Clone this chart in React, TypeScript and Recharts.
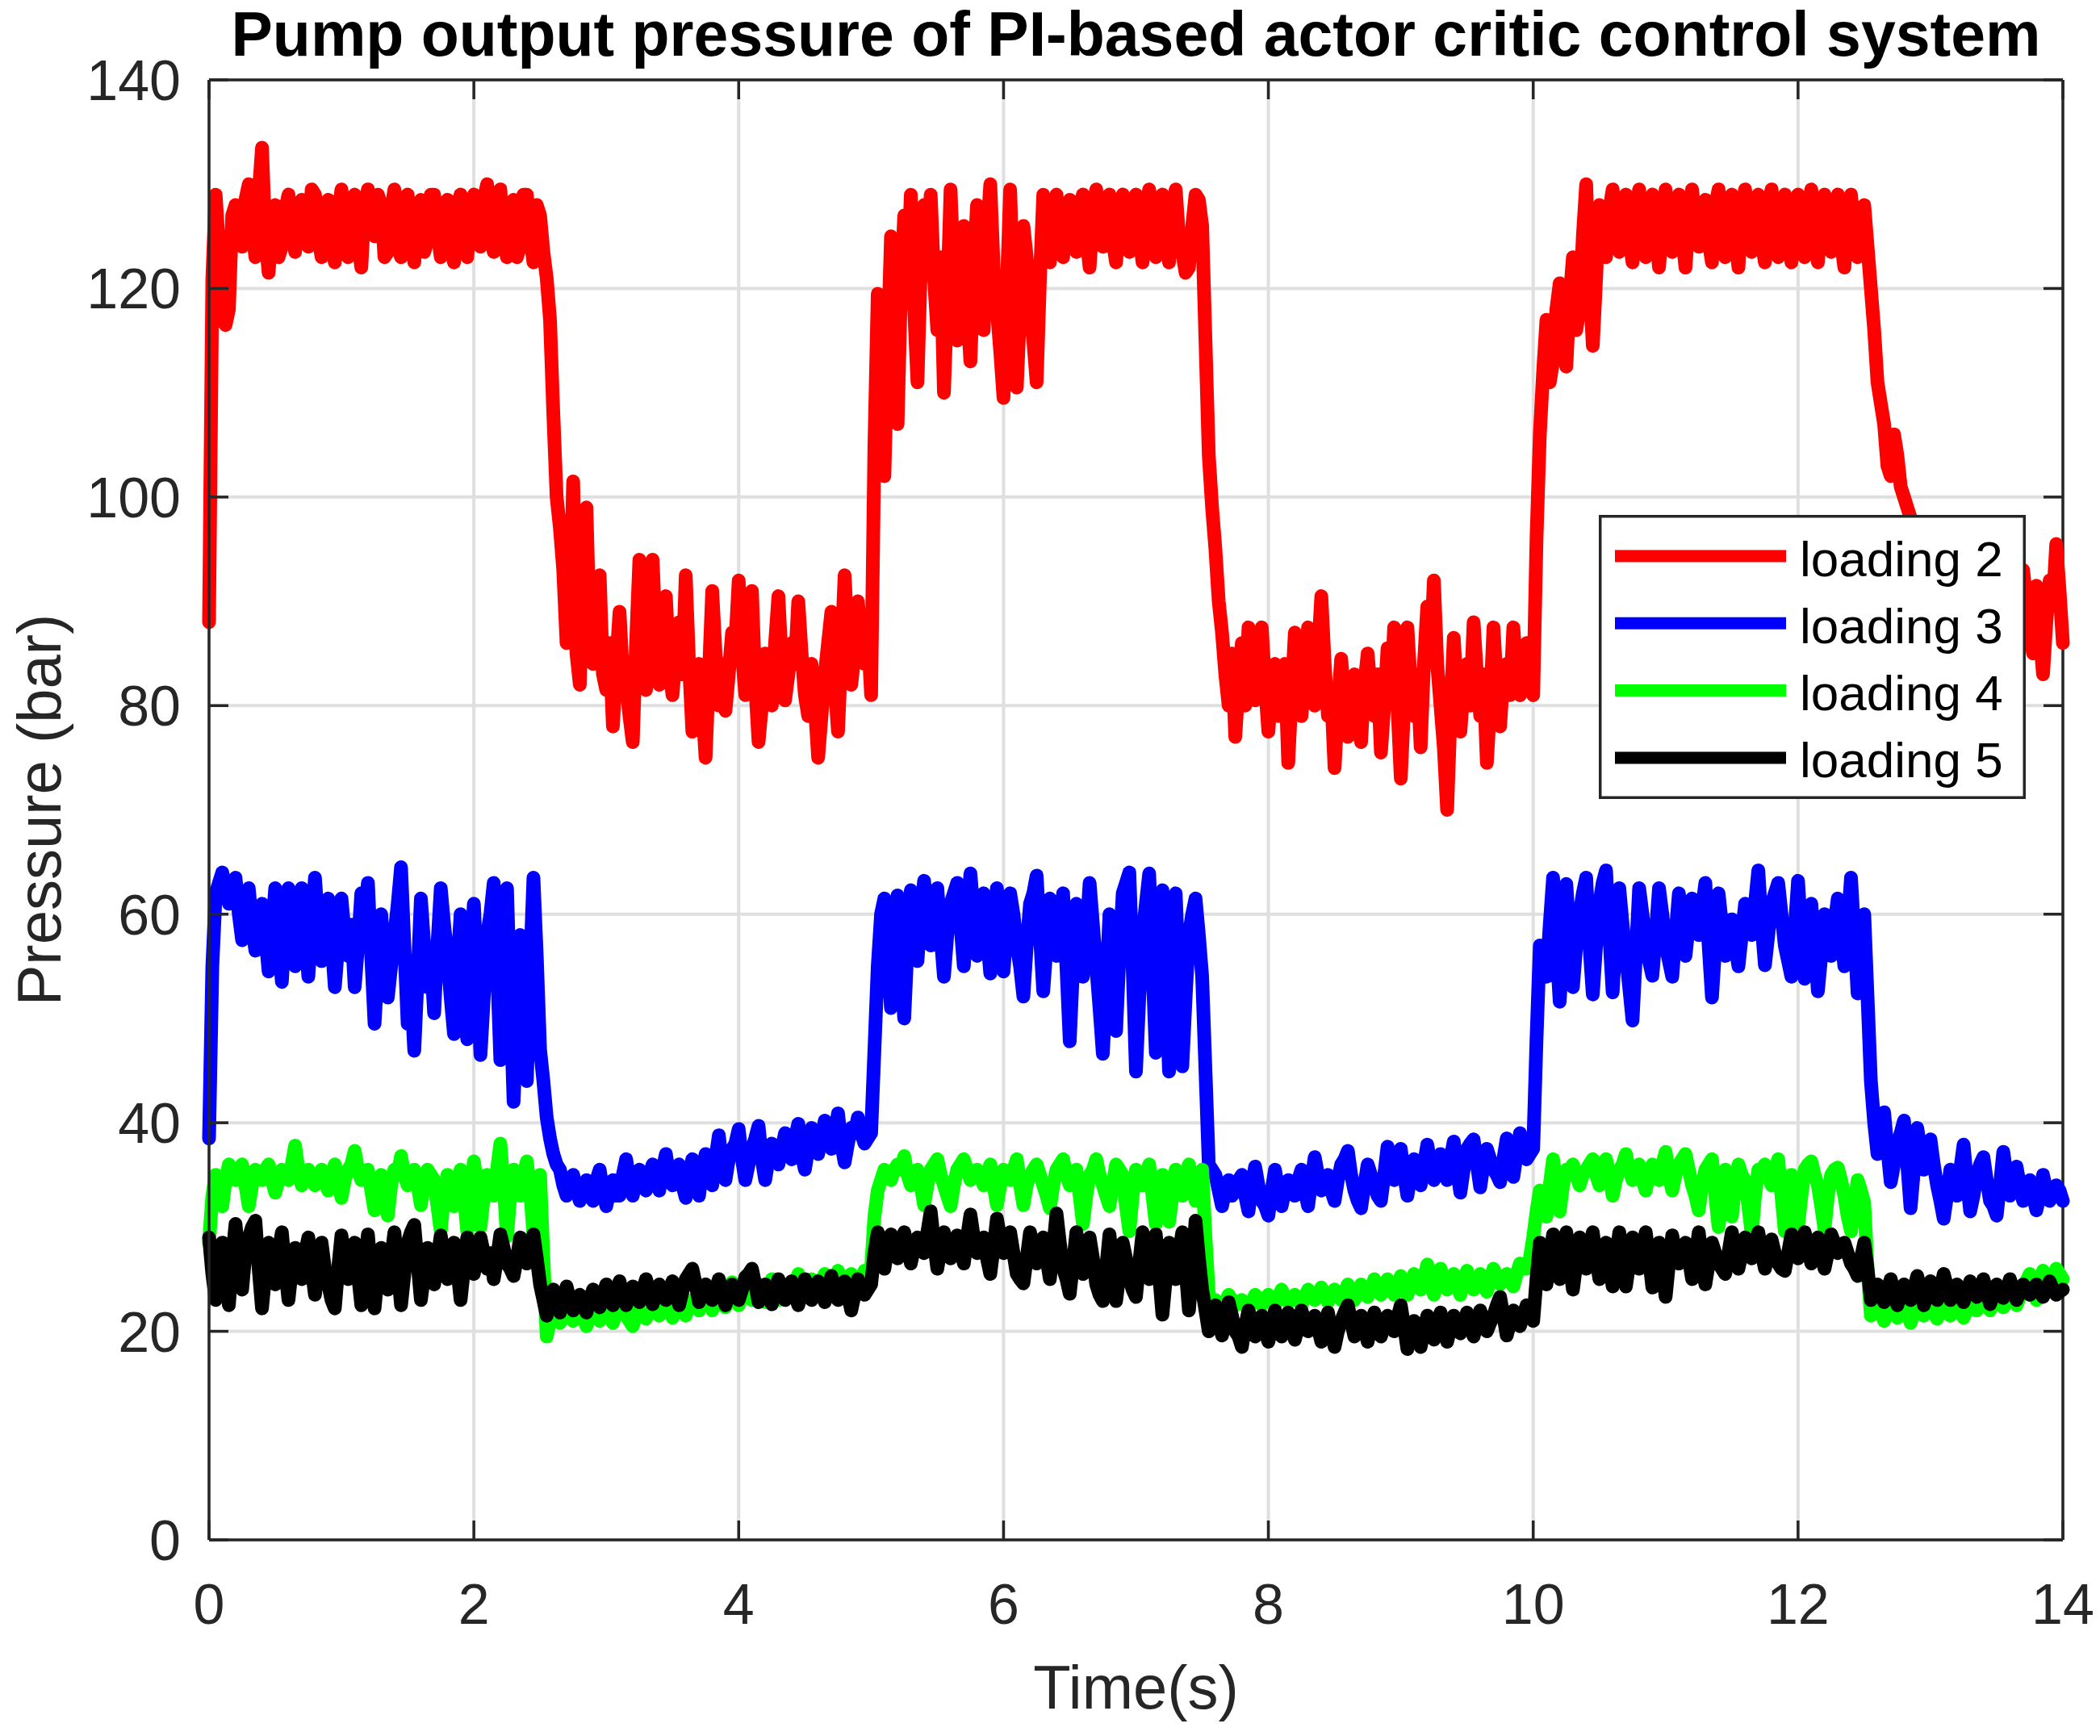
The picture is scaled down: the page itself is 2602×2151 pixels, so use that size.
import React from 'react';
import {
  CartesianGrid,
  Legend,
  Line,
  LineChart,
  ReferenceLine,
  XAxis,
  YAxis,
} from 'recharts';

// sample spacing of the recorded signals (s)
const TIME_STEP = 0.025;
const X_TICKS = [0, 2, 4, 6, 8, 10, 12, 14];
const Y_TICKS = [0, 20, 40, 60, 80, 100, 120, 140];

// one row per second (40 samples), plus the final sample at 14 s
const LOADING_2 = [
  88, 121, 129, 124, 117, 116.5, 118, 127, 128, 125, 124, 128.5, 130, 126, 123, 129, 133.5, 125, 121.5, 126, 128, 123, 124, 127.5, 129, 126, 123.5, 128, 128.5, 125.5, 124, 129.5, 129, 125, 123, 127, 128.5, 124.5, 122.5, 127,
  129.5, 125.5, 123, 127, 129, 124.5, 122, 128, 129.5, 126, 125, 129, 128, 123, 123.5, 127.5, 129.5, 124, 123, 128, 129, 125, 122.5, 126.5, 128.5, 123.5, 124.5, 129, 129, 125.5, 123, 127, 128.5, 124, 122.5, 128, 129, 125, 123, 127.5,
  129, 125.5, 124, 128.5, 130, 125, 123.5, 128, 129.5, 124.5, 123, 127.5, 128.5, 123, 124, 129, 129, 125, 122.5, 128, 127, 123.5, 121, 117, 108, 100, 97, 93, 86, 89, 101.5, 85, 82, 94, 99, 87, 84, 90, 92.5, 83,
  81.5, 86, 78, 84, 89, 83, 82, 79, 76.5, 86, 94, 85, 81.5, 88, 94, 86, 82, 85, 90.5, 84, 81, 85, 88, 83, 92.5, 84, 77.5, 81, 84, 80, 75, 83, 91, 85, 80, 84, 79.5, 83, 87, 86,
  92, 85, 81, 86, 91, 82, 76.5, 80, 85, 82.5, 80, 86, 90.5, 84, 80.5, 83, 86, 84, 90, 85, 81, 79, 84, 80, 75, 79, 83, 86, 89, 82, 77.5, 85, 92.5, 86, 82, 85, 90, 86, 84, 87,
  81, 105, 119.5, 108, 102, 114, 125, 116, 107, 120, 127, 121, 129, 118, 111, 122, 128, 124, 129, 121, 116, 123, 110, 119, 129.5, 121, 115, 124, 126, 118, 113, 122, 128, 120, 116, 125, 130, 122, 118, 114,
  109.5, 120, 129.5, 119, 110.5, 118, 126, 123, 118, 115, 111, 121, 129, 125, 122.5, 127, 129, 124.5, 123, 127.5, 128.5, 125, 123.5, 128, 129, 125, 122, 127, 129.5, 125.5, 124, 128, 129, 124.5, 122.5, 127.5, 129, 125, 123.5, 127,
  129, 125, 122.5, 127.5, 129.5, 125, 123, 128, 129, 124.5, 122.5, 127, 129.5, 125, 123.5, 121.5, 122, 126, 129, 128.5, 126, 115, 104, 99, 95, 90, 87, 83, 80, 85, 77, 82, 86, 80, 87.5, 83, 80.5, 84, 87.5, 82,
  77.5, 82, 84, 79, 80, 84, 74.5, 81, 87, 83, 79, 83, 87.5, 82, 80, 85, 90.5, 84, 79, 81, 74, 80, 84.5, 80, 77, 81, 83, 79, 76.5, 82, 85, 81, 79, 83, 75.5, 80, 85.5, 81, 87.5, 80,
  73, 80, 87.5, 82, 79, 83, 76, 84, 89.5, 85, 92, 84, 80, 76, 70, 79, 86.5, 81, 77.5, 82, 84, 80, 88, 83, 79, 83, 74.5, 80, 87.5, 82, 78, 83, 84, 81, 87.5, 83, 81, 84, 86, 83,
  81, 96, 106, 112, 117, 111, 113, 118, 120.5, 115, 112.5, 119, 123, 116, 118, 125, 130, 121, 114.5, 121, 128, 125, 123, 127.5, 129.5, 126, 123.5, 127, 129, 125, 122.5, 127, 129.5, 125, 123, 127.5, 129, 125.5, 122, 126,
  129.5, 126, 123.5, 127.5, 129, 125, 122, 126.5, 129.5, 126, 124, 127, 128.5, 124.5, 122.5, 128, 129.5, 125.5, 123, 127, 129, 125, 122, 127.5, 129.5, 126, 123.5, 127, 129, 124.5, 122.5, 128, 129.5, 125, 123, 127.5, 129, 124.5, 122.5, 127,
  129, 125.5, 123, 127.5, 129.5, 125, 122.5, 127, 129, 126, 123.5, 127.5, 129, 124.5, 122, 127, 129, 125.5, 123, 126, 128, 124, 120, 116, 111, 109, 107, 103, 102, 106, 104, 101, 100, 99, 98, 96, 95, 93, 91, 89,
  88, 86, 84, 87, 90, 87, 85, 88, 89, 86, 83, 87, 90, 88, 86, 85, 88, 86, 84, 88, 91, 88, 85, 87, 89, 86, 84, 89, 93, 90, 87, 85, 91.5, 87, 83, 88, 92, 90, 95.5, 91,
  86,
];

const LOADING_3 = [
  38.5, 55, 62, 63, 64, 62.5, 61, 62.5, 63.5, 60, 57.5, 60, 62.5, 59, 56.5, 59, 61, 58, 54.5, 58.5, 62.5, 58, 53.5, 59, 62.5, 59, 55, 58, 62.5, 58.5, 54, 59, 63.5, 59, 55.5, 58.5, 61.5, 57.5, 53, 57,
  61.5, 58, 56, 59, 53, 57, 62, 60, 63, 56, 49.5, 55, 60, 56, 52, 55, 58, 61, 64.5, 57, 49.5, 53, 46.9, 54, 61.5, 57, 53, 56, 50.5, 57, 62.5, 59, 56, 52, 48.5, 55, 60, 54, 48, 55,
  61, 54, 46.5, 52, 58, 60, 63, 55, 46, 54, 62.5, 52, 42, 50, 58, 52, 44, 55, 63.5, 56, 47, 44, 40.5, 38.5, 37, 36, 35.5, 34, 33, 34.5, 35, 33.5, 32.5, 34, 34.5, 33, 32.5, 34.5, 35.5, 33.5,
  32, 33.5, 34.5, 33, 33, 35, 36.5, 34.5, 33, 34.5, 35.5, 34, 33.5, 35, 36, 34.5, 33.5, 35.5, 37, 35, 34, 35.5, 36, 34, 32.8, 35, 36.5, 34.5, 33, 35.5, 37, 35, 34, 36.5, 38.8, 36, 34.5, 36.5, 37.5, 38,
  39.4, 36.5, 34.5, 36, 37.5, 38.5, 39.7, 36.5, 34.5, 36.5, 38, 37, 36, 37.5, 39, 37.5, 36.5, 38.5, 39.9, 37, 35.5, 37.5, 39.5, 38, 37, 38.5, 40.2, 38.5, 37.5, 39, 40.9, 38, 36.2, 38, 39.5, 39, 40.5, 39, 38, 38.5,
  39, 47, 55, 60, 61.5, 56, 51, 57, 61.8, 55, 50, 57, 62.3, 59, 55.5, 60, 63.2, 60, 57, 60, 62.5, 58, 54, 58, 61, 62, 63, 59, 55, 60, 63.9, 60, 56, 59, 62, 58, 54.3, 59, 62.5, 58,
  54.5, 59, 62, 60, 57, 55, 52.1, 57, 61, 62, 63.7, 58, 52.6, 57, 61.5, 59, 56, 59, 62, 55, 47.8, 55, 61, 58, 54, 58, 63, 59, 55, 51, 46.6, 53, 60, 55, 48.8, 56, 62, 63, 64, 55,
  44.9, 52, 58, 61, 63.9, 55, 46.7, 55, 62.3, 54, 44.9, 53, 62, 54, 45.4, 52, 58, 60, 61.5, 58, 54, 45, 36, 35.5, 35, 33.5, 32, 33.5, 34.5, 33, 33.5, 34.5, 35, 33, 31.5, 34, 35.8, 34, 32.5, 32,
  31.1, 33.5, 35.5, 33.5, 32, 33.5, 34.5, 33.5, 33, 34.5, 35.5, 33.5, 32, 34.5, 36.7, 35, 33.5, 34, 35, 33.5, 32.5, 34.5, 36, 36.5, 37.3, 35, 33.5, 32.5, 31.8, 34, 36, 35, 34, 33, 32.5, 35, 37.7, 36, 34.5, 36,
  37.5, 35, 33, 35, 36.5, 35, 34, 36, 37.9, 36, 34.5, 36, 37, 35.5, 34.5, 36.5, 38.2, 35.5, 33.3, 35.5, 37.5, 38, 38.4, 36, 33.8, 36, 37.5, 36.5, 35.5, 35, 34.3, 36.5, 38.5, 36.5, 34.8, 37, 39, 37.5, 36.5, 37,
  37.5, 48, 57, 55, 54, 59, 63.5, 57, 51.6, 57, 62.9, 58, 53, 57, 60, 62, 63.5, 57, 52.3, 57, 61, 63, 64.2, 58, 52.5, 58, 62.5, 59, 56, 53, 49.8, 56, 62.5, 60, 57, 55.5, 54.1, 58, 62.5, 60,
  57, 55.5, 54, 58, 62, 59, 56, 59, 61.5, 59.5, 58, 60.5, 63, 57, 52, 57, 62, 59, 56, 58, 59.5, 57, 55, 58, 61, 59.5, 58, 61, 64.2, 59, 55.1, 58, 61, 62, 63, 60, 57, 55.5, 54, 58.5,
  63.2, 58, 53.8, 57.5, 61, 57, 52.6, 56, 60, 58, 56, 59, 61.5, 58, 55, 59, 63.5, 58, 52.4, 56, 60, 52, 44, 40, 37, 39, 41, 37.5, 34.3, 36, 38, 39, 40.2, 36, 31.8, 35.5, 39.5, 37.5, 35.5, 37,
  38.4, 36, 34, 32.5, 30.8, 33, 35.5, 34, 33, 35.5, 37.9, 34.5, 31.5, 33, 35, 36, 36.7, 34.5, 32.5, 32, 31.1, 34, 37.2, 35, 33, 34.5, 35.8, 34, 32.5, 33.5, 34.5, 33, 31.6, 33, 35, 33.5, 32.5, 33, 34, 33.5,
  32.5,
];

const LOADING_4 = [
  28.5, 33, 35, 34, 32, 34.5, 36, 35, 34.5, 35.5, 36, 34, 32, 34, 35.5, 35, 34.5, 35.5, 36, 34.5, 33.3, 34.5, 35.5, 35, 34.5, 36, 37.8, 35.5, 34, 35, 35.5, 34.5, 34, 35, 35.5, 34.5, 33.5, 35, 36, 34.5,
  32.8, 34.5, 35.5, 36, 37.3, 35.5, 34.5, 35, 35.5, 33.5, 31.6, 33.5, 35, 33, 31.1, 34, 35.5, 35, 36.8, 35, 34, 35, 35.5, 34, 32.1, 34.5, 35.5, 35, 34.5, 32, 29.6, 33, 35, 34, 32, 34.5, 35.5, 33, 29.6, 33,
  36.3, 34, 30, 33, 35, 34.5, 33, 35.5, 38, 34, 29.1, 33, 35.5, 34.5, 33, 35, 36.3, 33.5, 29.3, 33, 35, 27, 19.5, 21, 22, 21.5, 20.8, 21.5, 22.5, 21.5, 21, 22, 22.5, 21.5, 20.5, 21.5, 22, 21.5, 21, 22,
  22.5, 21.5, 20.8, 21.8, 22.5, 22, 21.5, 21, 20.5, 21.8, 22.8, 22, 21.2, 22, 22.5, 22, 21.5, 22.3, 23, 22, 21.3, 22, 22.5, 22, 21.5, 22.3, 23, 22.5, 22, 23.2, 24.5, 23, 22, 22.8, 23.5, 22.8, 22.3, 23.5, 24.7, 23.5,
  22.5, 23.3, 24, 23.5, 23, 23.8, 24.5, 23.5, 22.8, 24, 25, 24, 23, 23.8, 24.5, 24, 23.5, 24.5, 25.5, 24.5, 23.5, 24.3, 25, 24.5, 24, 24.8, 25.5, 24.8, 24, 25, 25.8, 24.8, 24, 24.8, 25.5, 25, 24.3, 25, 25.8, 25,
  26, 31, 33.5, 34.5, 35.5, 35, 34.5, 35.5, 36, 35.5, 36.8, 35, 34, 35, 35.5, 34, 32.1, 34, 35.5, 36, 36.5, 35, 34, 33, 32, 34, 35.5, 36, 36.5, 35.5, 34.5, 35, 35.5, 35, 34, 35, 36, 34, 32.1, 34,
  35.5, 35, 34.5, 35.5, 36.5, 34, 32.1, 34, 35, 35.5, 36, 35, 34, 33, 31.8, 34, 35.5, 36, 36.5, 35, 34, 35, 35.5, 33, 30.3, 33, 35, 35.5, 36.5, 35, 34, 33, 32, 34, 36, 35.5, 35, 32, 29.6, 33,
  35.5, 35, 34, 35, 36, 33, 30.3, 33, 35, 33, 30.5, 33, 35.5, 34.5, 33, 35, 36, 34, 32.5, 34, 35.5, 29, 23.5, 23, 23, 22.5, 22, 22.8, 23.5, 23, 22.5, 22.8, 23, 22.5, 22, 22.8, 23.5, 23, 22.5, 23,
  23.5, 23, 22.5, 23.3, 24, 23.3, 22.8, 23, 23.5, 23, 22.5, 23.3, 24, 23.5, 23, 23.5, 24.2, 23.5, 22.8, 23.5, 24, 23.5, 23, 23.8, 24.5, 23.8, 23, 23.8, 24.5, 24, 23.3, 24, 25, 24.3, 23.5, 24.3, 25, 24.3, 23.5, 24.5,
  25.3, 24.5, 23.5, 24.5, 25.5, 24.8, 24, 25, 26.4, 25, 23.5, 24.8, 26, 25, 24, 24.8, 25.5, 24.5, 23.5, 24.8, 25.8, 24.8, 24, 24.8, 25.5, 24.5, 23.8, 25, 26, 25.3, 24.5, 25, 25.5, 25, 24.3, 25.5, 26.5, 26, 26, 27,
  29, 31.5, 33.5, 32, 31, 34, 36.5, 34, 31.5, 34, 35.5, 35.5, 36, 35, 34, 35, 35.5, 36, 36.5, 35, 34, 35, 36.5, 35, 33, 34.5, 35.5, 36, 37, 35.5, 34.5, 35.5, 36, 34.5, 33.5, 35, 36, 35, 34.5, 36,
  37.2, 35, 33.5, 35, 36, 36.5, 37, 35.5, 34, 33, 31.6, 34, 35.5, 36, 36.5, 33, 30, 33, 35.5, 33, 31, 34, 36, 35, 34.5, 32, 29.3, 33, 35.5, 35.5, 36, 35, 34, 35.5, 36.5, 33, 29.6, 33, 35, 32.5,
  30, 33, 35.5, 36, 36.3, 35, 34, 32, 29.8, 33, 35, 35.5, 35.7, 34.5, 33, 31, 29.6, 32, 34.5, 33.5, 32.3, 26, 21.5, 22, 22.5, 21.8, 21, 21.8, 22.5, 22, 21.3, 22, 22.8, 21.8, 20.8, 21.8, 22.5, 22, 21.5, 22.3,
  23, 22, 21.2, 22, 22.5, 22, 21.5, 22.3, 23, 22, 21.3, 22, 22.8, 22.3, 22, 22.6, 23.2, 22.6, 22, 22.8, 23.5, 22.8, 22.3, 22.8, 23.5, 23, 22.5, 23.3, 24, 24.8, 25.5, 24, 23, 24.5, 25.8, 25, 24, 25, 26, 25.5,
  25,
];

const LOADING_5 = [
  29, 25.5, 23, 26.5, 28.5, 25, 22.5, 27, 30.3, 27, 24, 27.5, 29, 30, 30.6, 26, 22.2, 25.5, 28.5, 26, 24.5, 27.5, 29.5, 26, 23, 26, 28, 26.5, 25, 27.5, 29, 26, 23.5, 26.5, 28.5, 26, 24.5, 23, 22.2, 26,
  29.2, 27, 25, 27, 28.5, 25.5, 22.5, 26, 29.3, 25.5, 22.2, 25.5, 28, 26, 24, 27, 29.5, 26, 22.5, 25.5, 28.5, 29.5, 30.2, 26.5, 23, 25.5, 28, 26, 24.5, 27, 29.2, 27, 25, 27, 28.5, 26, 23, 26, 29, 27,
  25.5, 27.5, 29, 27.5, 26, 27.5, 25, 27, 29.3, 28, 26.5, 26, 25.3, 27, 29, 27.5, 26.5, 28, 29.3, 27, 24.5, 23, 21.5, 23, 24, 23, 21.8, 23, 24.3, 23, 22, 23, 23.5, 22.8, 21.8, 23, 24, 23, 22.3, 23.5,
  24.5, 23.5, 22.5, 23.5, 24.8, 23.5, 22.5, 23.5, 24.3, 23.5, 22.8, 24, 25, 23.8, 22.6, 23.5, 24.5, 23.8, 23, 24, 24.8, 23.5, 22.5, 23.8, 25, 25.5, 26, 24.5, 22.8, 23.5, 24.5, 23.8, 23, 24, 25, 23.8, 22.5, 23.5, 24.5, 23.8,
  23, 24, 25.2, 25.5, 26, 24.5, 22.8, 23.5, 24.5, 23.5, 22.6, 23.8, 25, 24, 23, 24, 24.8, 23.5, 22.5, 23.8, 25, 24, 23, 24, 24.8, 23.8, 22.8, 24, 25.3, 24, 23, 24, 24.8, 23.5, 22, 23.5, 25, 24, 23.5, 24,
  24.5, 27.5, 29.5, 28, 26, 28, 29.3, 28, 27, 28.5, 29.5, 28, 26.5, 28, 29, 28, 27.5, 29.5, 31.5, 28.5, 26, 28, 29.5, 28, 27, 28.5, 29.2, 28, 26.5, 29, 31.2, 29, 27.5, 28.5, 29, 27, 25.5, 28, 30.8, 29,
  27.5, 28.5, 29.5, 27.5, 25.5, 25, 24.6, 27, 29.5, 28, 26.5, 28, 29, 27, 25, 28, 31.3, 28.5, 26, 25, 23.6, 26.5, 29.5, 27.5, 25.5, 27, 29, 27, 24.5, 23.5, 22.9, 26, 29.3, 26, 22.9, 25.5, 28.5, 27, 25, 24,
  23.3, 26.5, 29.5, 27, 25, 27.5, 29.3, 25.5, 21.6, 25, 28.5, 27, 25, 27.5, 29.5, 26, 22, 26, 30.6, 27, 24, 22, 20, 21.5, 22.5, 21, 19.6, 21, 22.8, 21.5, 20, 19.5, 18.5, 20.5, 22, 20.5, 19.5, 20.5, 21.5, 20,
  19, 20.5, 22, 20.8, 19.5, 20.8, 21.8, 20.5, 19.2, 20.5, 22, 21, 20, 20.8, 21.5, 20.3, 19, 20.5, 21.8, 20, 18.5, 20, 21, 21.8, 22.5, 21, 19.5, 20.5, 21.5, 20.3, 19, 20.5, 21.8, 20.5, 19.5, 20.5, 21.5, 20.8, 20, 21.3,
  22.5, 20.5, 18.3, 19.8, 21, 19.8, 18.5, 20, 21.5, 20.3, 19.2, 20.5, 21.8, 20.3, 19, 20.3, 21.5, 20.5, 19.8, 20.8, 21.8, 20.5, 19.5, 20.8, 22, 21, 20, 20.8, 21.5, 22.5, 23.3, 21.5, 19.6, 20.8, 22, 21.3, 20.5, 21.5, 22.5, 21.8,
  21, 25, 28.5, 26.5, 24.5, 27, 29.3, 27, 25, 27.5, 29.5, 26.5, 24, 26.5, 29, 27.5, 26, 28, 29.5, 27, 25, 27, 28.5, 26.5, 24.3, 27, 29.5, 27, 24.3, 26.5, 29, 27.5, 26, 28, 29.5, 27, 24.2, 26.5, 28.5, 26,
  23.3, 26.5, 29.2, 27.5, 26.5, 27.5, 28.5, 27, 25, 27, 29.5, 27, 24.5, 26.5, 28.5, 27.5, 26.5, 26, 25.5, 27.5, 29.5, 27.5, 26, 27.5, 29, 28, 27, 28, 29.5, 27.5, 26, 27.5, 28.8, 27.5, 26.5, 26, 25.8, 27.5, 29.3, 28,
  27, 28, 29.5, 28, 26.5, 28, 29, 27.5, 26, 27.5, 29.3, 28.5, 27.5, 28, 28.5, 27.5, 26.5, 26, 25.3, 27, 28.5, 26, 23, 23.8, 24.5, 23.5, 22.8, 24, 25, 23.8, 22.5, 23.5, 24.5, 23.8, 23, 24, 25.3, 24, 22.5, 23.5,
  24.8, 24, 23, 24, 25.5, 24.3, 23, 23.8, 24.5, 23.5, 22.8, 23.8, 24.8, 24, 23.3, 24, 25, 23.8, 22.6, 23.5, 24.5, 23.8, 23.2, 24, 25, 24, 23, 23.8, 24.5, 24, 23.5, 24, 24.5, 23.8, 23.3, 24, 24.8, 24, 23.5, 23.8,
  24,
];

const SERIES = [
  { key: 'loading2', name: 'loading 2', color: '#ff0000', values: LOADING_2 },
  { key: 'loading3', name: 'loading 3', color: '#0000ff', values: LOADING_3 },
  { key: 'loading4', name: 'loading 4', color: '#00ff00', values: LOADING_4 },
  { key: 'loading5', name: 'loading 5', color: '#000000', values: LOADING_5 },
];

const DATA = LOADING_2.map((_, i) => {
  const row: Record<string, number> = { time: Number((i * TIME_STEP).toFixed(3)) };
  SERIES.forEach(s => {
    row[s.key] = s.values[i];
  });
  return row;
});

const WIDTH = 2602;
const HEIGHT = 2151;
const PLOT_LEFT = 259;
const PLOT_TOP = 99;
const PLOT_RIGHT = 2556;
const PLOT_BOTTOM = 1908;
const TICK_LEN = 24;
const AXIS_COLOR = '#262626';
const AXIS_WIDTH = 3.5;
const GRID_COLOR = '#dfdfdf';
const LINE_WIDTH = 17;
const LEGEND_LINE_WIDTH = 15;
const FONT = '"Liberation Sans", Arial, Helvetica, sans-serif';

const XTick = (props: any) => {
  const { x, payload } = props;
  return (
    <g>
      <line x1={x} x2={x} y1={PLOT_BOTTOM} y2={PLOT_BOTTOM - TICK_LEN} stroke={AXIS_COLOR} strokeWidth={AXIS_WIDTH} />
      <line x1={x} x2={x} y1={PLOT_TOP} y2={PLOT_TOP + TICK_LEN} stroke={AXIS_COLOR} strokeWidth={AXIS_WIDTH} />
      <text x={x} y={2012} textAnchor="middle" fontSize={70} fill={AXIS_COLOR} fontFamily={FONT}>
        {payload.value}
      </text>
    </g>
  );
};

const YTick = (props: any) => {
  const { y, payload } = props;
  return (
    <g>
      <line x1={PLOT_LEFT} x2={PLOT_LEFT + TICK_LEN} y1={y} y2={y} stroke={AXIS_COLOR} strokeWidth={AXIS_WIDTH} />
      <line x1={PLOT_RIGHT - TICK_LEN} x2={PLOT_RIGHT} y1={y} y2={y} stroke={AXIS_COLOR} strokeWidth={AXIS_WIDTH} />
      <text x={224} y={y + 25} textAnchor="end" fontSize={70} fill={AXIS_COLOR} fontFamily={FONT}>
        {payload.value}
      </text>
    </g>
  );
};

const axisTitle = (cx: number, cy: number, text: string, angle = 0) => () => (
  <text
    x={cx}
    y={cy}
    transform={angle ? `rotate(${angle} ${cx} ${cy})` : undefined}
    textAnchor="middle"
    fontSize={76}
    fill={AXIS_COLOR}
    fontFamily={FONT}
  >
    {text}
  </text>
);

const LegendBox = ({ payload }: { payload?: any[] }) => (
  <svg width={529} height={352} style={{ display: 'block' }}>
    <rect x={1.75} y={1.75} width={525.5} height={348.5} fill="#ffffff" stroke={AXIS_COLOR} strokeWidth={AXIS_WIDTH} />
    {(payload || []).map((entry, i) => {
      const cy = 51 + i * 83.3;
      return (
        <g key={entry.value}>
          <line x1={20} x2={232} y1={cy} y2={cy} stroke={entry.color} strokeWidth={LEGEND_LINE_WIDTH} />
          <text x={249} y={cy + 24.5} fontSize={62} fill="#000000" fontFamily={FONT}>
            {entry.value}
          </text>
        </g>
      );
    })}
  </svg>
);

export default function App() {
  return (
    <div style={{ position: 'absolute', left: 0, top: 0, width: WIDTH, height: HEIGHT, background: '#ffffff' }}>
      <div
        style={{
          position: 'absolute',
          left: PLOT_LEFT,
          top: 4,
          width: PLOT_RIGHT - PLOT_LEFT,
          textAlign: 'center',
          fontFamily: FONT,
          fontWeight: 700,
          fontSize: 77,
          lineHeight: '77px',
          color: '#000000',
          whiteSpace: 'nowrap',
          zIndex: 2,
        }}
      >
        Pump output pressure of PI-based actor critic control system
      </div>
      <LineChart
        width={WIDTH}
        height={HEIGHT}
        data={DATA}
        margin={{ top: PLOT_TOP, right: WIDTH - PLOT_RIGHT, bottom: 0, left: 0 }}
      >
        <CartesianGrid stroke={GRID_COLOR} strokeWidth={4} />
        <XAxis
          dataKey="time"
          type="number"
          domain={[0, 14]}
          ticks={X_TICKS}
          interval={0}
          height={HEIGHT - PLOT_BOTTOM}
          tickLine={false}
          axisLine={{ stroke: AXIS_COLOR, strokeWidth: AXIS_WIDTH }}
          tick={<XTick />}
          label={axisTitle((PLOT_LEFT + PLOT_RIGHT) / 2, 2117, 'Time(s)')}
        />
        <YAxis
          type="number"
          domain={[0, 140]}
          ticks={Y_TICKS}
          interval={0}
          width={PLOT_LEFT}
          tickLine={false}
          axisLine={{ stroke: AXIS_COLOR, strokeWidth: AXIS_WIDTH }}
          tick={<YTick />}
          label={axisTitle(75, (PLOT_TOP + PLOT_BOTTOM) / 2, 'Pressure (bar)', -90)}
        />
        <ReferenceLine y={140} stroke={AXIS_COLOR} strokeWidth={AXIS_WIDTH} />
        <ReferenceLine x={14} stroke={AXIS_COLOR} strokeWidth={AXIS_WIDTH} />
        {SERIES.map(s => (
          <Line
            key={s.key}
            type="linear"
            dataKey={s.key}
            name={s.name}
            stroke={s.color}
            strokeWidth={LINE_WIDTH}
            strokeLinejoin="round"
            strokeLinecap="round"
            dot={false}
            activeDot={false}
            isAnimationActive={false}
          />
        ))}
        <Legend
          layout="vertical"
          align="center"
          verticalAlign="middle"
          width={529}
          height={352}
          wrapperStyle={{ left: 1981, top: 638, width: 529, height: 352 }}
          content={(props: any) => <LegendBox payload={props.payload} />}
        />
      </LineChart>
    </div>
  );
}
